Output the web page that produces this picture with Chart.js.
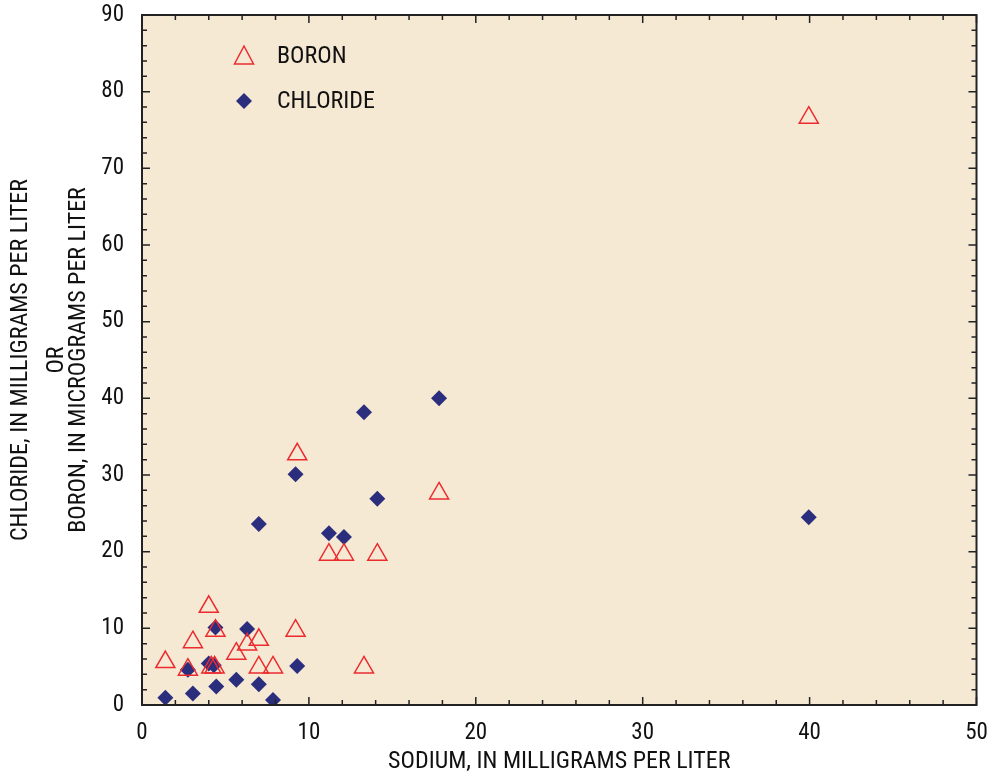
<!DOCTYPE html>
<html>
<head>
<meta charset="utf-8">
<script src="https://cdn.jsdelivr.net/npm/chart.js@4"></script>
<style>
  html, body { margin: 0; padding: 0; background: #fff; }
</style>
</head>
<body>
<canvas id="chart" width="989" height="774"></canvas>
<script>
// sodium (mg/L) vs boron (ug/L) and chloride (mg/L)
const boronSodium = [1.4, 2.75, 3.05, 4.0, 4.15, 4.35, 4.4, 5.65, 6.3, 7.0, 7.0, 7.85, 9.2, 9.3, 11.2, 12.1, 13.3, 14.1, 17.8, 39.95];
const boronValues = [5.6, 4.6, 8.2, 12.8, 4.9, 4.9, 9.7, 6.7, 7.9, 8.5, 4.9, 4.9, 9.7, 32.7, 19.6, 19.6, 4.9, 19.6, 27.6, 76.6];

const chlorideSodium = [1.4, 2.75, 3.05, 4.0, 4.3, 4.4, 4.45, 5.65, 6.3, 7.0, 7.0, 7.85, 9.2, 9.3, 11.2, 12.1, 13.3, 14.1, 17.8, 39.95];
const chlorideValues = [0.95, 4.6, 1.5, 5.4, 5.2, 10.1, 2.4, 3.3, 9.9, 2.7, 23.6, 0.65, 30.1, 5.1, 22.4, 21.9, 38.2, 26.9, 40.0, 24.5];

const xTicks = [0, 10, 20, 30, 40, 50];
const yTicks = [0, 10, 20, 30, 40, 50, 60, 70, 80, 90];

const FONT = '"Roboto Condensed", "Liberation Sans", Arial, sans-serif';
const RED = '#EC2B2F';
const NAVY = '#2B2E7C';

function toPoints(xs, ys) {
    return xs.map((x, i) => ({ x: x, y: ys[i] }));
}

const framePlugin = {
    id: 'frame',
    beforeDatasetsDraw(chart) {
        const { ctx, chartArea: a } = chart;
        ctx.save();
        ctx.fillStyle = '#F6E9D4';
        ctx.fillRect(a.left, a.top, a.right - a.left, a.bottom - a.top);
        ctx.restore();
    },
    afterDraw(chart) {
        const { ctx, chartArea: a } = chart;
        const xs = chart.scales.x, ys = chart.scales.y;
        ctx.save();
        ctx.strokeStyle = '#222';
        ctx.lineWidth = 1.5;
        ctx.beginPath();
        for (let v = 0; v <= 50; v += 2) {
            const px = xs.getPixelForValue(v);
            const len = v % 10 === 0 ? 8 : 5;
            ctx.moveTo(px, a.bottom); ctx.lineTo(px, a.bottom - len);
            ctx.moveTo(px, a.top); ctx.lineTo(px, a.top + len);
        }
        for (let v = 0; v <= 90; v += 2) {
            const py = ys.getPixelForValue(v);
            const len = v % 10 === 0 ? 8 : 5;
            ctx.moveTo(a.left, py); ctx.lineTo(a.left + len, py);
            ctx.moveTo(a.right, py); ctx.lineTo(a.right - len, py);
        }
        ctx.stroke();
        ctx.lineWidth = 2;
        ctx.strokeRect(a.left, a.top, a.right - a.left, a.bottom - a.top);

        // legend
        ctx.fillStyle = '#111';
        ctx.font = '24px ' + FONT;
        ctx.textBaseline = 'middle';
        ctx.textAlign = 'left';
        ctx.fillText('BORON', 277, 57);
        ctx.fillText('CHLORIDE', 277, 102);
        ctx.strokeStyle = RED;
        ctx.lineWidth = 1.5;
        ctx.beginPath();
        ctx.moveTo(244, 46); ctx.lineTo(253.5, 64); ctx.lineTo(234.5, 64); ctx.closePath();
        ctx.stroke();
        ctx.fillStyle = NAVY;
        ctx.beginPath();
        ctx.moveTo(244, 93); ctx.lineTo(252, 101); ctx.lineTo(244, 109); ctx.lineTo(236, 101); ctx.closePath();
        ctx.fill();

        // axis titles
        ctx.fillStyle = '#111';
        ctx.font = '24px ' + FONT;
        ctx.textAlign = 'center';
        ctx.fillText('SODIUM, IN MILLIGRAMS PER LITER', (a.left + a.right) / 2, 762);
        ctx.translate(0, (a.top + a.bottom) / 2);
        ctx.rotate(-Math.PI / 2);
        ctx.fillText('CHLORIDE, IN MILLIGRAMS PER LITER', 0, 21);
        ctx.fillText('OR', 0, 57);
        ctx.fillText('BORON, IN MICROGRAMS PER LITER', 0, 79);
        ctx.restore();
    }
};

new Chart(document.getElementById('chart'), {
    type: 'scatter',
    data: {
        datasets: [
            {
                label: 'BORON',
                data: toPoints(boronSodium, boronValues),
                pointStyle: 'triangle',
                pointRadius: 11,
                pointBorderColor: RED,
                pointBackgroundColor: 'rgba(0,0,0,0)',
                pointBorderWidth: 1.5
            },
            {
                label: 'CHLORIDE',
                data: toPoints(chlorideSodium, chlorideValues),
                pointStyle: 'rectRot',
                pointRadius: 8,
                pointBackgroundColor: NAVY,
                pointBorderColor: NAVY,
                pointBorderWidth: 0
            }
        ]
    },
    options: {
        responsive: false,
        animation: false,
        layout: { padding: { left: 0, top: 15, right: 11, bottom: 0 } },
        plugins: {
            legend: { display: false },
            tooltip: { enabled: false }
        },
        scales: {
            x: {
                type: 'linear',
                min: 0,
                max: 50,
                afterFit(scale) {
                    scale.height = 69;
                    scale.paddingLeft = 0;
                    scale.paddingRight = 0;
                },
                afterBuildTicks(scale) { scale.ticks = xTicks.map(v => ({ value: v })); },
                grid: { display: false },
                border: { display: false },
                ticks: { color: '#111', padding: 6, font: { family: FONT, size: 23 } }
            },
            y: {
                type: 'linear',
                min: 0,
                max: 90,
                afterFit(scale) {
                    scale.width = 142;
                    scale.paddingTop = 0;
                    scale.paddingBottom = 0;
                },
                afterBuildTicks(scale) { scale.ticks = yTicks.map(v => ({ value: v })); },
                grid: { display: false },
                border: { display: false },
                ticks: { color: '#111', padding: 10, font: { family: FONT, size: 23 } }
            }
        }
    },
    plugins: [framePlugin]
});
</script>
</body>
</html>
